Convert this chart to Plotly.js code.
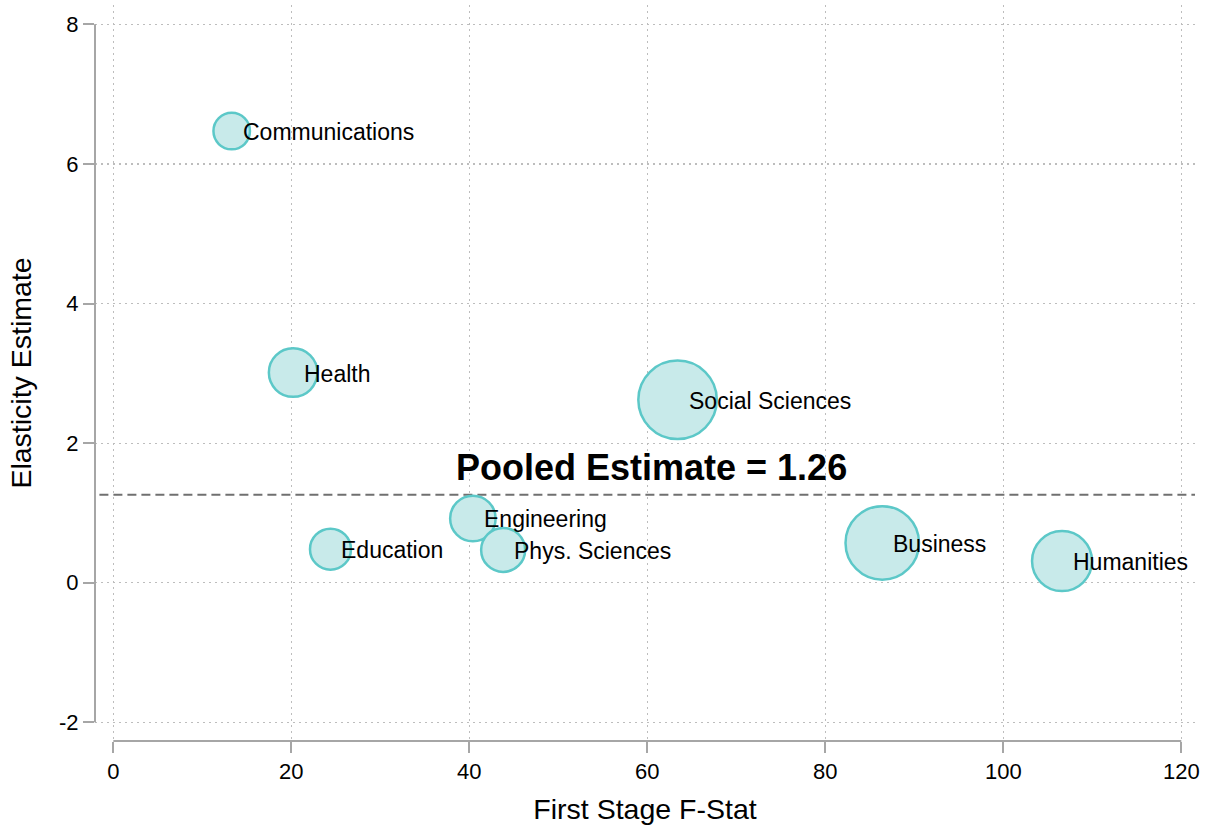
<!DOCTYPE html>
<html>
<head>
<meta charset="utf-8">
<script src="https://cdn.plot.ly/plotly-3.0.1.min.js"></script>
<style>html,body{margin:0;padding:0;background:#fff;}#chart{width:1207px;height:827px;}</style>
</head>
<body>
<div id="chart"></div>
<script>
// Data
const categories = ["Communications", "Health", "Education", "Engineering", "Phys. Sciences", "Social Sciences", "Business", "Humanities"];
const firstStageF = [13.3, 20.2, 24.4, 40.4, 43.8, 63.4, 86.4, 106.6];
const elasticity = [6.47, 3.01, 0.48, 0.92, 0.47, 2.62, 0.57, 0.31];
const bubbleSize = [36.5, 48.5, 41, 45.5, 44, 78.5, 73.5, 60];
const pooledEstimate = 1.26;
const xTicks = [0, 20, 40, 60, 80, 100, 120];
const yTicks = [-2, 0, 2, 4, 6, 8];

const FONT = "Liberation Sans, Arial, Helvetica, sans-serif";

const trace = {
  type: "scatter",
  mode: "markers",
  x: firstStageF,
  y: elasticity,
  text: categories,
  hoverinfo: "text",
  marker: {
    size: bubbleSize,
    sizemode: "diameter",
    color: "#c8eaea",
    opacity: 1,
    line: {color: "#5cc8c8", width: 2.5}
  },
  cliponaxis: false,
  showlegend: false
};

const labelAnnotations = categories.map((c, i) => ({
  x: firstStageF[i], y: elasticity[i], xref: "x", yref: "y",
  text: c, showarrow: false, xanchor: "left", yanchor: "middle",
  xshift: 9, yshift: -1,
  font: {family: FONT, size: 23, color: "#000"}
}));

const pooledAnnotation = {
  x: 60.5, y: pooledEstimate, xref: "x", yref: "y",
  text: "<b>Pooled Estimate = " + pooledEstimate.toFixed(2) + "</b>",
  showarrow: false, xanchor: "center", yanchor: "bottom", yshift: 5,
  font: {family: FONT, size: 36, color: "#000"}
};

const gridStyle = {showgrid: true, gridcolor: "#bdbdbd", gridwidth: 1.2, griddash: "1.5px,4.5px"};

const layout = {
  width: 1207, height: 827,
  margin: {l: 95, r: 12, t: 5, b: 86},
  paper_bgcolor: "#fff", plot_bgcolor: "#fff",
  font: {family: FONT, color: "#000"},
  xaxis: Object.assign({
    range: [-2.06, 121.54],
    tickvals: xTicks, ticktext: xTicks.map(String),
    ticks: "outside", ticklen: 11, tickwidth: 2, tickcolor: "#a6a6a6",
    showline: false, zeroline: false,
    tickfont: {family: FONT, size: 22, color: "#000"},
    title: {text: "First Stage F-Stat", font: {family: FONT, size: 28.5, color: "#000"}, standoff: 15}
  }, gridStyle),
  yaxis: Object.assign({
    range: [-2.268, 8.277],
    tickvals: yTicks, ticktext: yTicks.map(String),
    ticks: "outside", ticklen: 11, tickwidth: 2, tickcolor: "#a6a6a6",
    showline: false, zeroline: false,
    tickfont: {family: FONT, size: 22, color: "#000"},
    title: {text: "Elasticity Estimate", font: {family: FONT, size: 28.5, color: "#000"}, standoff: 19}
  }, gridStyle),
  shapes: [
    {type: "line", xref: "x", yref: "paper", x0: xTicks[0], x1: xTicks[xTicks.length - 1], y0: 0, y1: 0,
     line: {color: "#a6a6a6", width: 2}, layer: "above"},
    {type: "line", xref: "paper", yref: "y", x0: 0, x1: 0, y0: yTicks[0], y1: yTicks[yTicks.length - 1],
     line: {color: "#a6a6a6", width: 2}, layer: "above"},
    {type: "line", xref: "paper", yref: "y", x0: 0.004, x1: 1, y0: pooledEstimate, y1: pooledEstimate,
     line: {color: "#707070", width: 2, dash: "9px,5px"}, layer: "below"}
  ],
  annotations: labelAnnotations.concat([pooledAnnotation])
};

Plotly.newPlot("chart", [trace], layout, {staticPlot: true, displayModeBar: false});
</script>
</body>
</html>
